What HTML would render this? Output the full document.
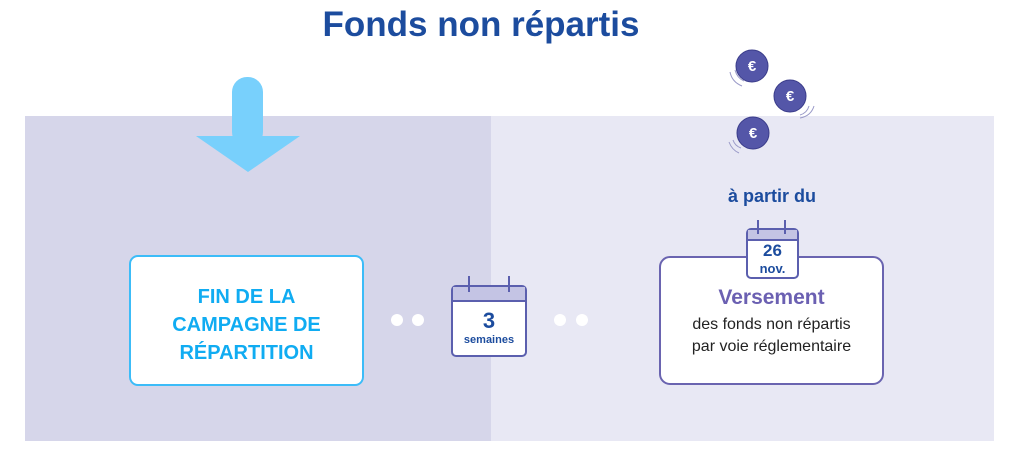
<!DOCTYPE html>
<html><head><meta charset="utf-8"><style>
body{margin:0;width:1024px;height:474px;background:#fff;position:relative;overflow:hidden;font-family:"Liberation Sans",sans-serif}
div,span{position:absolute}
.t{text-align:center;font-weight:bold}
</style></head><body>
<div class="t" style="left:0;width:962px;top:5px;font-size:35px;color:#1c4c9e">Fonds non répartis</div>
<div style="left:25px;top:116px;width:466px;height:325px;background:#d6d6ea"></div>
<div style="left:491px;top:116px;width:503px;height:325px;background:#e8e8f4"></div>
<svg style="position:absolute;left:0;top:0" width="1024" height="474">
<rect x="232" y="77" width="31" height="70" rx="15" fill="#78d0fc"/>
<polygon points="196,136 300,136 248,172" fill="#78d0fc"/>
<rect x="130" y="256" width="233" height="129" rx="8" fill="#fff" stroke="#3cbcf8" stroke-width="2"/>
<circle cx="397" cy="320" r="6" fill="#fff"/><circle cx="418" cy="320" r="6" fill="#fff"/>
<circle cx="560" cy="320" r="6" fill="#fff"/><circle cx="582" cy="320" r="6" fill="#fff"/>
<g stroke="#5b5fae" stroke-width="2" fill="none">
<rect x="452" y="286" width="74" height="70" rx="4" fill="#fff"/>
<path d="M453 287h72v13h-72z" fill="#c4c4e4" stroke="none"/>
<line x1="452" y1="301" x2="526" y2="301"/>
<line x1="469" y1="276" x2="469" y2="292"/><line x1="509" y1="276" x2="509" y2="292"/>
<rect x="660" y="257" width="223" height="127" rx="10" fill="#fff" stroke="#6a64b0"/>
<rect x="747" y="229" width="51" height="49" rx="4" fill="#fff"/>
<path d="M748 230h49v10h-49z" fill="#c4c4e4" stroke="none"/>
<line x1="747" y1="240" x2="798" y2="240"/>
<line x1="758" y1="220" x2="758" y2="234"/><line x1="785" y1="220" x2="785" y2="234"/>
</g>
<g fill="#5456a8" stroke="#3a3c8a" stroke-width="1">
<circle cx="752" cy="66" r="16"/><circle cx="790" cy="96" r="16"/><circle cx="753" cy="133" r="16"/>
</g>
<g fill="#fff" font-size="15" font-weight="bold" text-anchor="middle" font-family="Liberation Sans">
<text x="752" y="71">€</text><text x="790" y="101">€</text><text x="753" y="138">€</text>
</g>
<g stroke="#9a9ac8" fill="none" stroke-width="1">
<path d="M730 72 q2 10 12 14"/><path d="M735 70 q2 8 9 11"/>
<path d="M814 106 q-3 10 -14 12"/><path d="M809 106 q-2 7 -9 9"/>
<path d="M729 142 q3 8 10 11"/><path d="M733 140 q2 6 8 8"/>
</g>
</svg>
<div class="t" style="left:129px;width:235px;top:283px;font-size:20px;line-height:28px;color:#10acf2">FIN DE LA<br>CAMPAGNE DE<br>RÉPARTITION</div>
<div class="t" style="left:452px;width:74px;top:308px;font-size:22px;color:#1c4c9e">3</div>
<div class="t" style="left:452px;width:74px;top:334px;font-size:11px;color:#1c4c9e">semaines</div>
<div class="t" style="left:700px;width:144px;top:186px;font-size:18px;color:#1c4c9e">à partir du</div>
<div class="t" style="left:747px;width:51px;top:241px;font-size:17px;color:#1c4c9e">26</div>
<div class="t" style="left:747px;width:51px;top:261px;font-size:13px;color:#1c4c9e">nov.</div>
<div class="t" style="left:660px;width:223px;top:286px;font-size:21px;color:#6b60b2">Versement</div>
<div style="left:660px;width:223px;top:314px;font-size:16px;line-height:22px;text-align:center;color:#222">des fonds non répartis<br>par voie réglementaire</div>
</body></html>
